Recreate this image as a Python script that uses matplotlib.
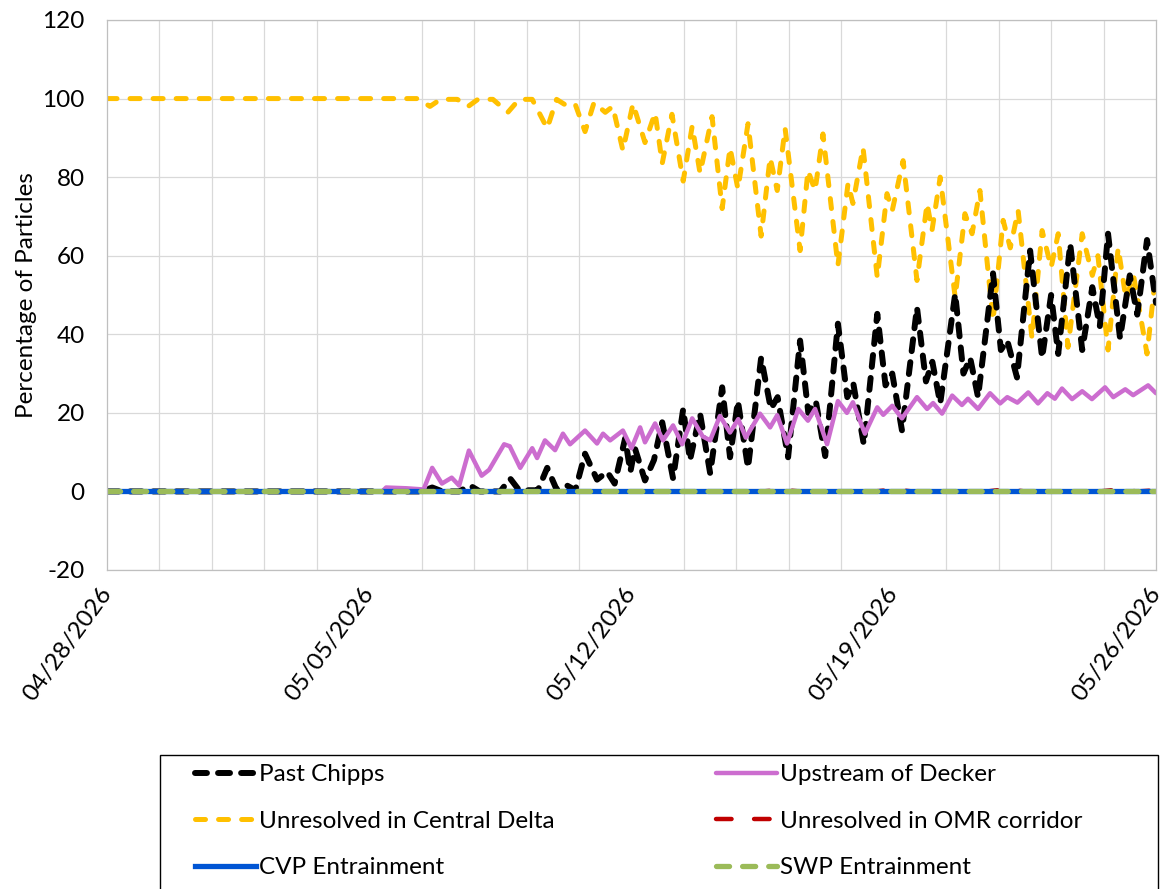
import matplotlib
matplotlib.use("Agg")
import matplotlib.pyplot as plt
import matplotlib.dates as mdates
import matplotlib.ticker as mticker
from matplotlib.patches import Rectangle
import numpy as np
import pandas as pd

# ── Particle tracking results (days after 04/28/2026, % of particles) ─────
START = pd.Timestamp("2026-04-28")
N_DAYS = 28

central_days = [0, 8.3, 8.62, 8.9, 9.35, 9.64, 9.9, 10.3, 10.7, 11.0, 11.35,
                11.75, 12.0, 12.3, 12.5, 12.76, 13.0, 13.3, 13.5, 13.77,
                14.04, 14.36, 14.63, 14.82, 15.08, 15.38, 15.62, 15.83, 16.15,
                16.42, 16.63, 16.84, 17.11, 17.46, 17.70, 17.89, 18.10, 18.50,
                18.71, 18.90, 19.11, 19.51, 19.78, 19.91, 20.18, 20.56, 20.82,
                20.96, 21.25, 21.62, 21.89, 22.02, 22.24, 22.64, 22.90, 23.09,
                23.30, 23.65, 23.92, 24.11, 24.32, 24.69, 24.96, 25.2, 25.39,
                25.65, 26.03, 26.3, 26.45, 26.72, 26.99, 27.2, 27.4, 27.76, 28.0]
central_pct = [100, 100, 98, 99.8, 99.8, 98, 99.8, 99.8, 96.5, 99.8, 99.8,
               92.4, 99.8, 98, 98.5, 91.6, 99, 96.5, 98, 86.8,
               98.7, 88.8, 96.4, 83.5, 96, 79, 93, 81, 95.4,
               72, 87.5, 77, 93.6, 65, 85, 76.6, 92.4, 61.3,
               81.7, 76.6, 91, 57.5, 78.4, 73.3, 87.5, 54.5, 75.8,
               71.5, 84.2, 53.7, 73.3, 66.4, 80, 49.4, 70.7, 65.6,
               76.6, 43.5, 69, 62, 71.5, 39, 66.4, 57, 65.6,
               36.7, 65.6, 55, 60, 36, 62, 49, 55, 35, 56]

chipps_days = [0, 8.4, 8.68, 8.95, 9.4, 9.69, 9.95, 10.5, 10.76, 11.0, 11.5,
               11.75, 12.0, 12.28, 12.5, 12.76, 13.08, 13.35, 13.55, 13.83,
               13.97, 14.09, 14.36, 14.6, 14.82, 15.11, 15.38, 15.56, 15.83,
               16.10, 16.42, 16.63, 16.84, 17.11, 17.46, 17.72, 17.9, 18.18,
               18.50, 18.72, 18.92, 19.17, 19.51, 19.76, 19.92, 20.2, 20.56,
               20.78, 20.96, 21.22, 21.62, 21.86, 22.03, 22.24, 22.64, 22.86,
               23.04, 23.25, 23.65, 23.86, 24.03, 24.29, 24.64, 24.96, 25.2,
               25.39, 25.71, 26.03, 26.3, 26.5, 26.72, 27.04, 27.3, 27.5,
               27.76, 28.0]
chipps_pct = [0, 0, 1, 0, 0, 1.5, 0, 0, 3.3, 0.3, 0.3,
              6, 0.5, 1.5, 0.3, 9.6, 3, 5, 2, 13.5,
              5, 11, 2.8, 8, 17.6, 3.3, 21, 7.9, 19.8,
              4.6, 26.5, 8.7, 23, 6, 34, 21, 24, 8.7,
              38.4, 20, 23, 9, 42.7, 24, 27.5, 12, 45.2,
              27, 30, 15.5, 46.8, 28, 33, 22.4, 50.3, 30,
              34, 24, 55.5, 36, 38.4, 29, 61.3, 34, 50,
              35, 63, 36, 52, 42, 65.6, 39, 55, 45,
              64, 48]

decker_days = [0, 7.35, 7.45, 8.0, 8.45, 8.68, 8.94, 9.2, 9.4, 9.66, 10.0,
               10.2, 10.6, 10.75, 11.03, 11.35, 11.48, 11.69, 11.96, 12.17,
               12.36, 12.76, 13.08, 13.24, 13.43, 13.77, 14.0, 14.23, 14.36,
               14.63, 14.84, 15.11, 15.35, 15.62, 15.9, 16.1, 16.36, 16.63,
               16.85, 17.05, 17.43, 17.70, 17.89, 18.15, 18.45, 18.71, 18.90,
               19.22, 19.51, 19.75, 19.91, 20.23, 20.56, 20.72, 20.96, 21.22,
               21.62, 21.89, 22.05, 22.29, 22.56, 22.82, 22.98, 23.25, 23.57,
               23.84, 24.03, 24.3, 24.59, 24.85, 25.1, 25.3, 25.49, 25.76,
               26.03, 26.29, 26.64, 26.86, 27.18, 27.39, 27.79, 28.0]
decker_pct = [0, 0, 1, 0.8, 0.5, 6, 2, 3.5, 1.5, 10.4, 4,
              5.5, 12, 11.5, 6, 11, 8.5, 13, 10.5, 14.7,
              12, 15.5, 12.2, 14.7, 13, 15.5, 11, 16.3, 12.5,
              17.3, 13, 16.8, 12, 18.6, 14, 13, 19.2, 15,
              18.4, 13.7, 19.8, 16.3, 19.4, 12.2, 21, 18, 21,
              12, 23, 20, 22.7, 14.7, 21.4, 19.5, 21.8, 18.6,
              24, 21, 22.5, 19.8, 24.4, 22, 23.6, 21, 25,
              22.4, 24, 22.6, 25.2, 22.4, 25, 23.6, 26.2, 23.5,
              25.5, 23.5, 26.5, 24, 26, 24.5, 27, 25]

omr_days = [0, 17.5, 18.0, 18.5, 20.5, 21.0, 21.5, 23.5, 24.0, 24.5, 26.5, 27.0, 27.5, 28.0]
omr_pct = [0, 0, 0.4, 0, 0, 0.5, 0, 0, 0.6, 0, 0, 0.5, 0, 0.3]

cvp_days = [0, 28.0]
cvp_pct = [0, 0]

swp_days = [0, 28.0]
swp_pct = [0, 0]

# ── Style ──────────────────────────────────────────────────────────────────
FS = 17.5
plt.rcParams.update({
    "font.family": ["Lato", "DejaVu Sans"],
    "font.size": FS,
    "lines.scale_dashes": False,
    "axes.unicode_minus": False,
})

GRID = "#D9D9D9"
FRAME = "#BFBFBF"
TEXT = "#000000"

W, H = 1164, 889
fig = plt.figure(figsize=(W / 100, H / 100), dpi=100)
ax = fig.add_axes([107 / W, 1 - 570 / H, (1156 - 107) / W, (570 - 20) / H])

base = mdates.date2num(START.to_pydatetime())


def dx(days):
    return base + np.asarray(days, dtype=float)


h_central, = ax.plot(dx(central_days), central_pct, color="#FFC000", lw=3.6,
                     linestyle=(0, (7.2, 9.4)), dash_capstyle="round",
                     label="Unresolved in Central Delta")
h_chipps, = ax.plot(dx(chipps_days), chipps_pct, color="#000000", lw=4.3,
                    linestyle=(0, (8.6, 8.0)), dash_capstyle="round",
                    label="Past Chipps")
h_decker, = ax.plot(dx(decker_days), decker_pct, color="#CC6DCF", lw=3.2,
                    solid_capstyle="round", solid_joinstyle="round",
                    label="Upstream of Decker")
h_omr, = ax.plot(dx(omr_days), omr_pct, color="#C00000", lw=3.2,
                 linestyle=(0, (11.2, 16.2)), dash_capstyle="round",
                 label="Unresolved in OMR corridor")
h_cvp, = ax.plot(dx(cvp_days), cvp_pct, color="#0055D4", lw=3.8,
                 label="CVP Entrainment")
h_swp, = ax.plot(dx(swp_days), swp_pct, color="#9BBB59", lw=3.8,
                 linestyle=(0, (9.4, 9.4)), dash_capstyle="round",
                 label="SWP Entrainment")

# Axes ranges and ticks
ax.set_xlim(base, base + N_DAYS)
ax.set_ylim(-20, 120)
ax.yaxis.set_major_locator(mticker.MultipleLocator(20))
ax.xaxis.set_major_locator(mticker.FixedLocator(dx(np.arange(0, N_DAYS + 1, 7))))
ax.xaxis.set_minor_locator(mticker.FixedLocator(dx(np.arange(0, N_DAYS + 0.01, 1.4))))
ax.xaxis.set_major_formatter(mdates.DateFormatter("%m/%d/%Y"))

ax.grid(axis="y", which="major", color=GRID, lw=0.9, zorder=0)
ax.grid(axis="x", which="minor", color=GRID, lw=0.9, zorder=0)
ax.set_axisbelow(True)
for s in ax.spines.values():
    s.set_color(FRAME)
    s.set_linewidth(0.9)

ax.tick_params(axis="both", which="both", length=0, labelsize=FS, colors=TEXT)
ax.tick_params(axis="y", pad=16)
ax.tick_params(axis="x", pad=14)
for lab in ax.get_xticklabels():
    lab.set_rotation(54)
    lab.set_ha("right")
    lab.set_va("center")
    lab.set_rotation_mode("anchor")

ax.set_ylabel("Percentage of Particles", fontsize=FS, labelpad=4)

# ── Legend: two columns inside a boxed strip under the plot ───────────────
fig.add_artist(Rectangle((160 / W, -0.05), (1158 - 160) / W, 0.05 + 1 - 755 / H,
                         transform=fig.transFigure, fill=False,
                         edgecolor="#000000", linewidth=1.0))
leg_kw = dict(loc="upper left", frameon=False, fontsize=FS, borderpad=0,
              borderaxespad=0, handlelength=2.5, handletextpad=0.12,
              labelspacing=1.05, bbox_transform=fig.transFigure)
fig.legend(handles=[h_chipps, h_central, h_cvp],
           bbox_to_anchor=(195 / W, 1 - 764 / H), **leg_kw)
fig.legend(handles=[h_decker, h_omr, h_swp],
           bbox_to_anchor=(716 / W, 1 - 764 / H), **leg_kw)

fig.savefig("out.png", dpi=100, facecolor="white")
